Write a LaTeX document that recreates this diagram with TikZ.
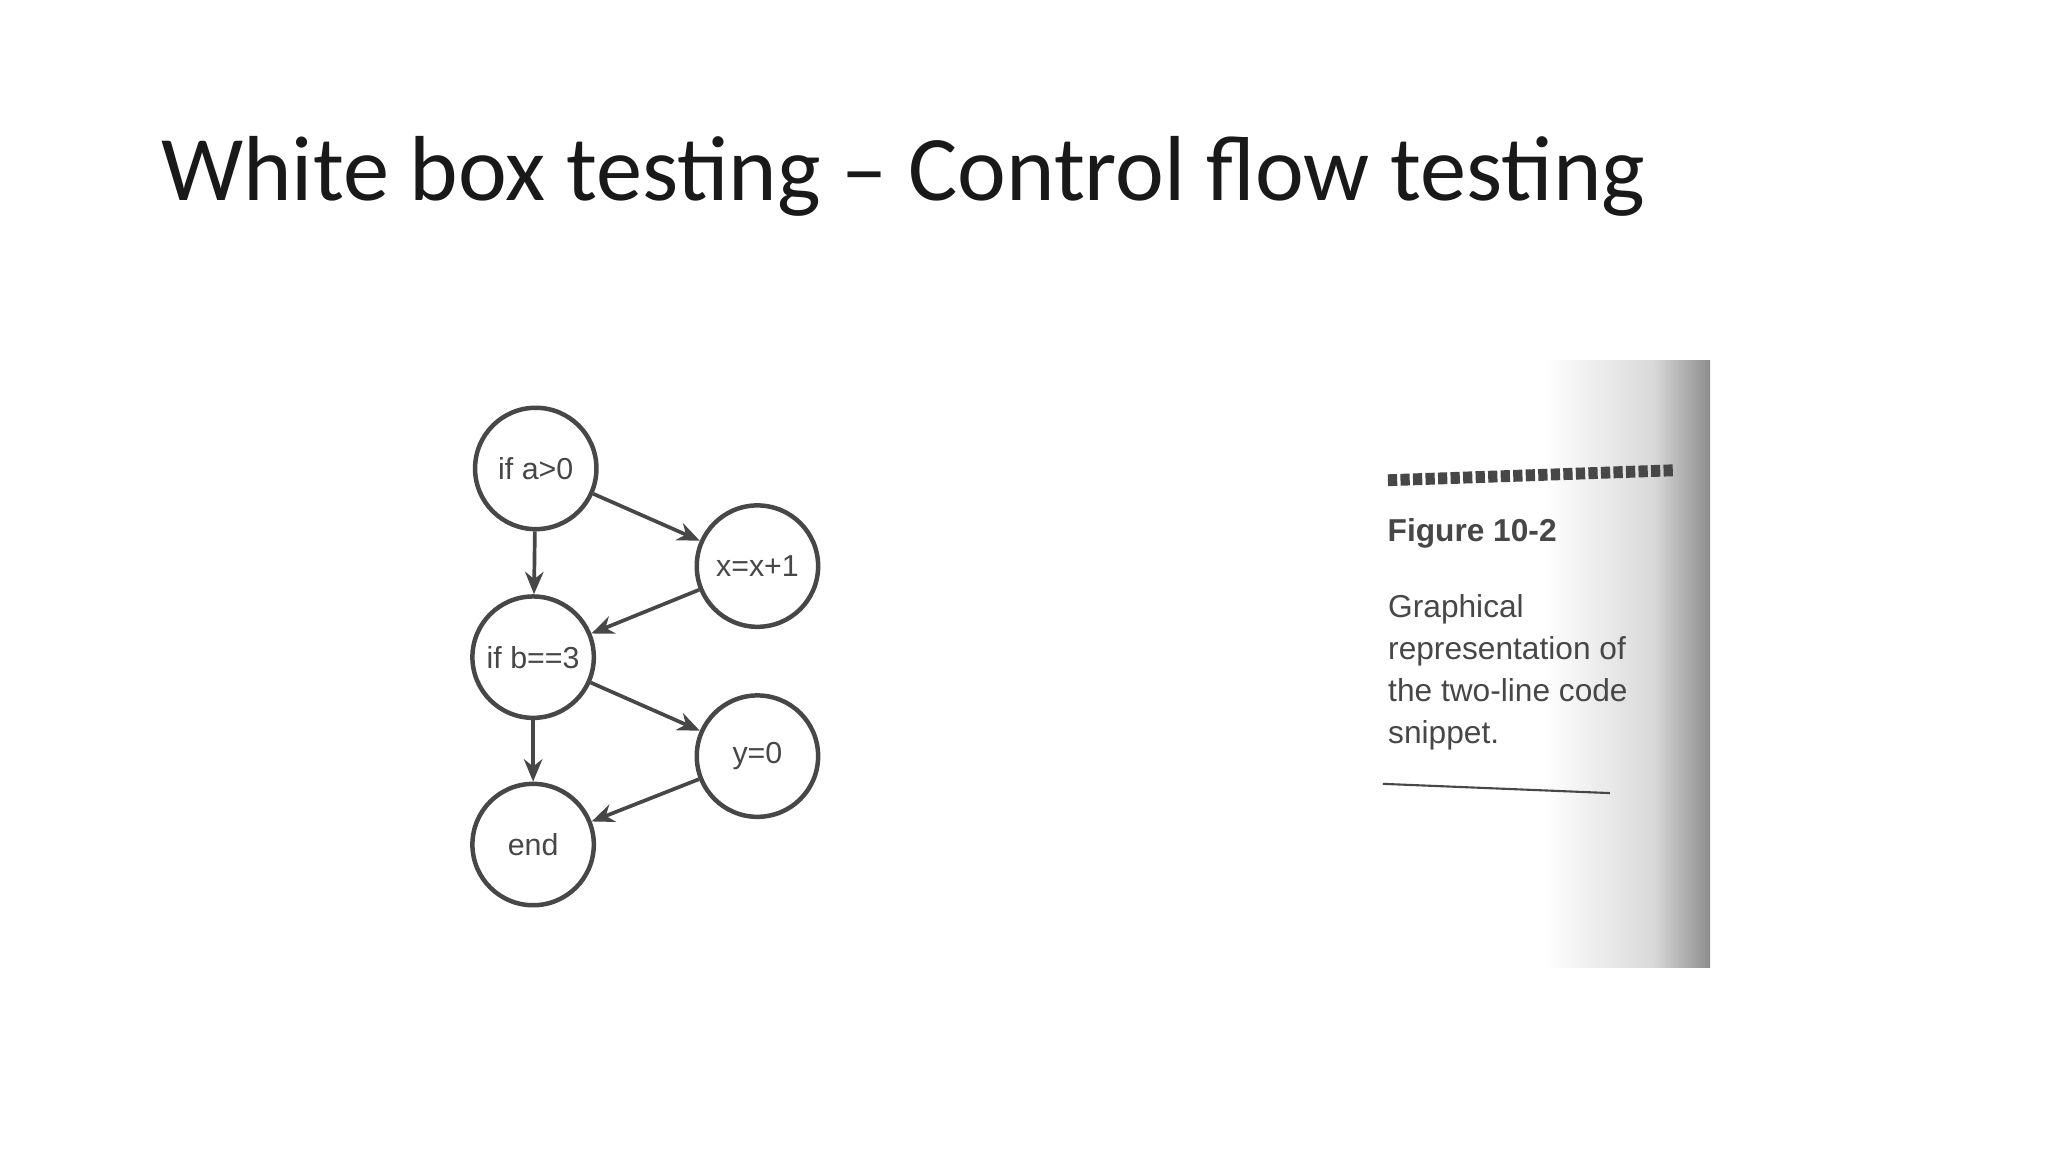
\documentclass[tikz,border=0pt]{standalone}
\usepackage{fontspec}
\setmainfont{Carlito}
\newfontfamily\arialf{Liberation Sans}
\usetikzlibrary{arrows.meta}
\definecolor{ink}{HTML}{474747}
\tikzset{
  cnode/.style={circle,draw=ink,line width=3.4pt,minimum size=92pt,inner sep=0pt,font=\arialf\fontsize{23}{26}\selectfont,text=ink},
  flow/.style={draw=ink,line width=2.8pt,-{Stealth[length=17pt,width=14pt]}},
}
\begin{document}
\begin{tikzpicture}[x=1pt,y=-1pt]
\useasboundingbox (0,0) rectangle (1552,873);
\fill[white] (0,0) rectangle (1552,873);
\node[anchor=base west,inner sep=0pt,font=\fontsize{70}{76}\selectfont,text=black!90] (title) at (122,152) {White box testing – Control flow testing};
% graph
\node[cnode] (a) at (406,355) {if a>0};
\node[cnode] (x) at (574,429) {x=x+1};
\node[cnode] (b) at (404,498) {if b==3};
\node[cnode] (y) at (574,573) {y=0};
\node[cnode] (e) at (404,640) {end};
\draw[flow] (a) -- (b);
\draw[flow] (a) -- (x);
\draw[flow] (x) -- (b);
\draw[flow] (b) -- (y);
\draw[flow] (b) -- (e);
\draw[flow] (y) -- (e);
% scanned panel
\shade[left color=white,right color=white!85!black] (1170,273) rectangle (1253,733);
\shade[left color=white!85!black,right color=white!55!black] (1253,273) rectangle (1296,733);
\begin{scope}[rotate around={2:(1050,370)}]
\draw[ink,line width=9pt,dash pattern=on 7pt off 2.5pt] (1052,364) -- (1268,364);
\node[anchor=base west,inner sep=0pt,font=\arialf\bfseries\fontsize{24}{28}\selectfont,text=ink] (fig) at (1050,410) {Figure 10-2};
\node[anchor=north west,inner sep=0pt,align=left,font=\arialf\fontsize{24}{32}\selectfont,text=ink] (cap) at (1049,450) {Graphical\\representation of\\the two-line code\\snippet.};
\end{scope}
\draw[ink,line width=1.6pt] (1048,594) -- (1220,601);
\end{tikzpicture}
\end{document}
